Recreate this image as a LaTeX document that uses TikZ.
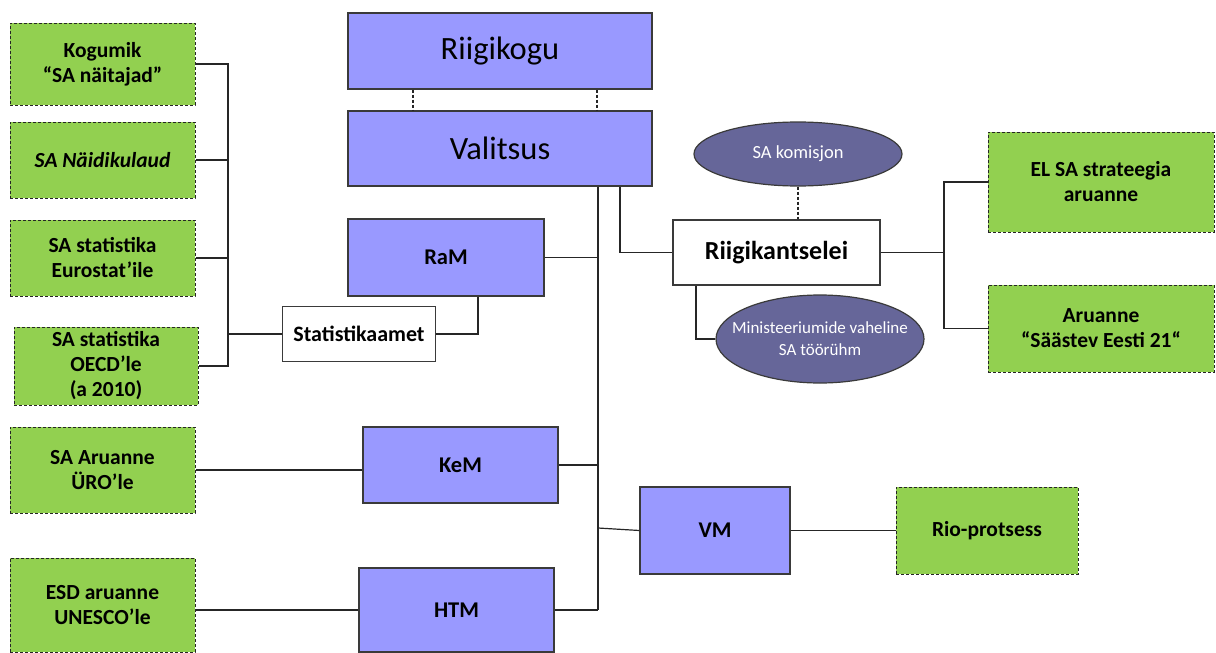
\documentclass[tikz,border=0pt]{standalone}
\usepackage{fontspec}
\setmainfont{Carlito}
\usetikzlibrary{shapes.geometric}
\definecolor{blueF}{HTML}{9999FF}
\definecolor{greenF}{HTML}{92D050}
\definecolor{ellF}{HTML}{666699}
\definecolor{edge}{HTML}{3A3A3A}
\tikzset{
  base/.style={draw=edge, line width=1.2pt, inner sep=2pt, align=center, text=black},
  bluebox/.style={base, fill=blueF, font=\bfseries\fontsize{22.5}{27}\selectfont},
  bigblue/.style={base, fill=blueF, font=\fontsize{32.5}{38}\selectfont},
  whitebox/.style={base, fill=white, font=\bfseries\fontsize{22}{26}\selectfont},
  greenbox/.style={base, fill=greenF, dash pattern=on 3pt off 2pt, line width=1pt, draw=black!85, font=\bfseries\fontsize{21.5}{25}\selectfont},
  ellbox/.style={ellipse, draw=edge, line width=1.2pt, fill=ellF, inner sep=0pt},
  elltext/.style={text=white, align=center, inner sep=0pt, font=\fontsize{17}{22}\selectfont},
  conn/.style={draw=black!85, line width=1.2pt},
  dconn/.style={conn, dash pattern=on 3pt off 2pt},
}
\begin{document}
\begin{tikzpicture}[x=1pt,y=-1pt]
\useasboundingbox (0,0) rectangle (1216,653);
% blue boxes
\node[bigblue, minimum width=304pt, minimum height=76pt] (rk) at (500,51) {Riigikogu};
\node[bigblue, minimum width=304pt, minimum height=75pt] (val) at (500,148.5) {Valitsus};
\node[bluebox, minimum width=196pt, minimum height=77pt] (ram) at (446,257.5) {RaM};
\node[bluebox, minimum width=195pt, minimum height=76pt] (kem) at (460.5,465) {KeM};
\node[bluebox, minimum width=195pt, minimum height=84pt] (htm) at (456.5,610) {HTM};
\node[bluebox, minimum width=150pt, minimum height=87pt] (vm) at (715,530.5) {VM};
% white boxes
\node[whitebox, minimum width=153pt, minimum height=55pt] (stat) at (359,334) {Statistikaamet};
\node[whitebox, minimum width=207pt, minimum height=65pt, font=\bfseries\fontsize{26}{30}\selectfont] (rkc) at (776.5,252.5) {Riigikantselei};
% ellipses
\node[ellbox, minimum width=208pt, minimum height=64pt,
      label={[elltext, font=\fontsize{18.5}{22}\selectfont]center:SA komisjon}] (sak) at (798,154) {};
\node[ellbox, minimum width=208pt, minimum height=88pt,
      label={[elltext]center:{Ministeeriumide vaheline\\SA töörühm}}] (min) at (820,339) {};
% green boxes
\node[greenbox, minimum width=185pt, minimum height=82pt] (kog) at (102.5,64) {Kogumik\\“SA näitajad”};
\node[greenbox, minimum width=185pt, minimum height=76pt] (naid) at (102.5,160) {\itshape SA Näidikulaud};
\node[greenbox, minimum width=185pt, minimum height=76pt] (euro) at (102.5,258) {SA statistika\\Eurostat’ile};
\node[greenbox, minimum width=184pt, minimum height=78pt] (oecd) at (106,366) {SA statistika\\OECD’le\\(a 2010)};
\node[greenbox, minimum width=185pt, minimum height=86pt] (uro) at (102.5,470) {SA Aruanne\\ÜRO’le};
\node[greenbox, minimum width=185pt, minimum height=94pt] (unesco) at (102.5,605) {ESD aruanne\\UNESCO’le};
\node[greenbox, minimum width=182pt, minimum height=87pt] (rio) at (987,530.5) {Rio-protsess};
\node[greenbox, minimum width=226pt, minimum height=100pt] (elsa) at (1101,182) {EL SA strateegia\\aruanne};
\node[greenbox, minimum width=226pt, minimum height=87pt] (aru) at (1101,328.5) {Aruanne\\“Säästev Eesti 21“};
% helper coordinates
\coordinate (lb) at (228,0);
\coordinate (mv) at (598,0);
\coordinate (vr) at (620,0);
\coordinate (rb) at (944,0);
\coordinate (mk) at (696,0);
% Riigikogu - Valitsus dashed
\draw[dconn] (rk.south -| 413,0) -- (val.north -| 413,0);
\draw[dconn] (rk.south -| 597,0) -- (val.north -| 597,0);
% left bracket
\draw[conn] (kog.east) -- (kog.east -| lb) -- (oecd.east -| lb) -- (oecd.east);
\draw[conn] (naid.east) -- (naid.east -| lb);
\draw[conn] (euro.east) -- (euro.east -| lb);
\draw[conn] (stat.west) -- (stat.west -| lb);
% RaM - Statistikaamet
\draw[conn] (ram.south -| 478,0) |- (stat.east);
% main vertical
\draw[conn] (val.south -| mv) -- (htm.east -| mv);
\draw[conn] (ram.east) -- (ram.east -| mv);
\draw[conn] (kem.east) -- (kem.east -| mv);
\draw[conn] (htm.east) -- (htm.east -| mv);
\draw[conn] (vm.west) -- (598,528);
% Valitsus - Riigikantselei
\draw[conn] (val.south -| vr) |- (rkc.west);
% SA komisjon
\draw[dconn] (sak.south) -- (sak.south |- rkc.north);
% Ministeeriumide
\draw[conn] (rkc.south -| mk) |- (min.west);
% right bracket
\draw[conn] (rkc.east) -- (rkc.east -| rb);
\draw[conn] (elsa.west) -- (elsa.west -| rb) -- (aru.west -| rb) -- (aru.west);
% others
\draw[conn] (vm.east) -- (rio.west);
\draw[conn] (uro.east) -- (uro.east -| kem.west);
\draw[conn] (htm.west -| unesco.east) -- (htm.west);
\end{tikzpicture}
\end{document}
